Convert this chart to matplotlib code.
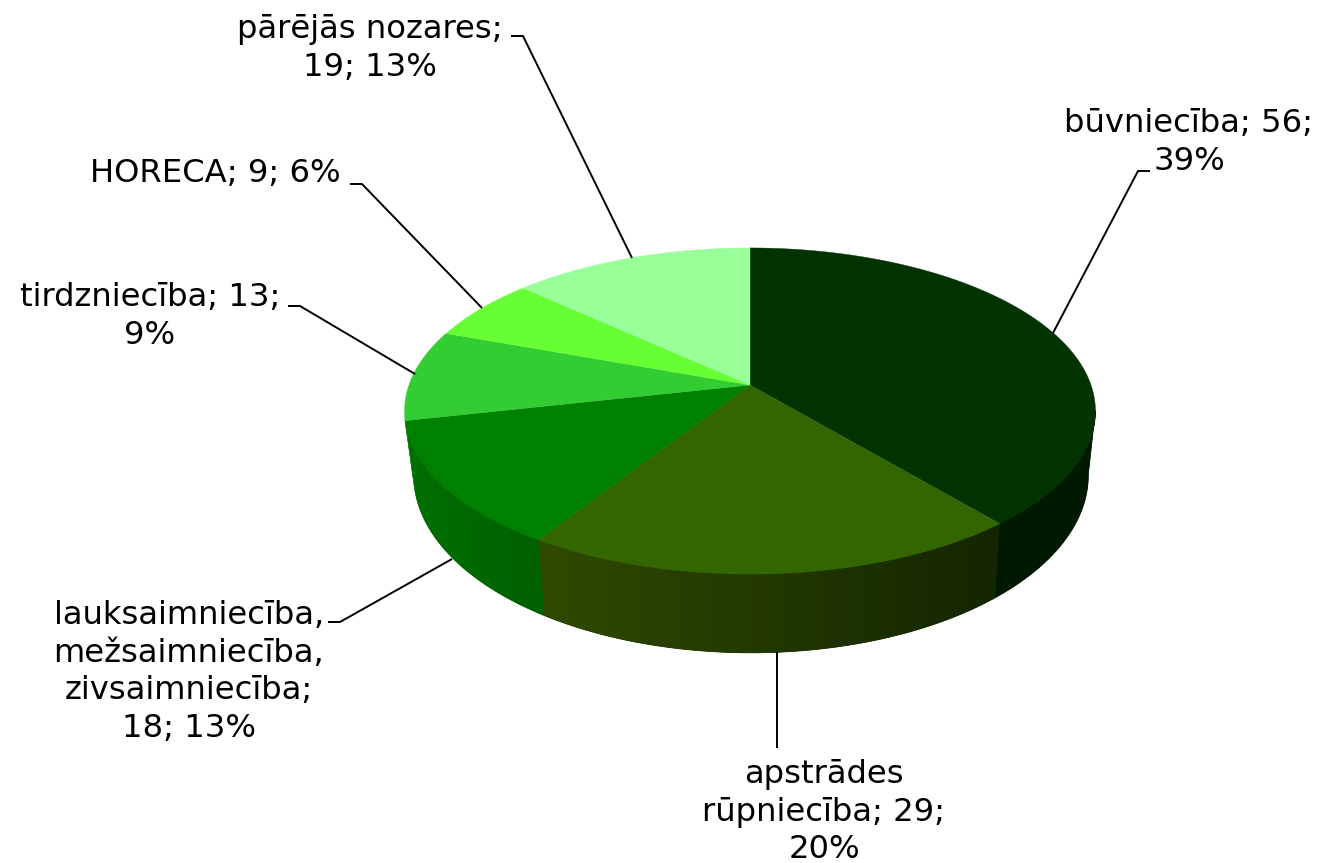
import numpy as np
import matplotlib
matplotlib.use('Agg')
from matplotlib import pyplot as plt
from matplotlib.colors import to_rgb
from matplotlib.patches import Polygon

plt.rcParams['font.family'] = ['DejaVu Sans']

sectors = ['būvniecība', 'apstrādes rūpniecība', 'lauksaimniecība, mežsaimniecība, zivsaimniecība',
           'tirdzniecība', 'HORECA', 'pārējās nozares']
counts = [56, 29, 18, 13, 9, 19]
top_colors = ['#003300', '#336600', '#008000', '#33CC33', '#66FF33', '#99FF99']
side_left = ['#001900', '#304A00', '#007000', '#229922', '#44BB22', '#77CC77']
side_right = ['#001900', '#142600', '#006000', '#229922', '#44BB22', '#77CC77']

label_texts = ['būvniecība; 56;\n39%', 'apstrādes\nrūpniecība; 29;\n20%',
               'lauksaimniecība,\nmežsaimniecība,\nzivsaimniecība;\n18; 13%',
               'tirdzniecība; 13;\n9%', 'HORECA; 9; 6%', 'pārējās nozares;\n19; 13%']
label_pos = [(1189, 142.5), (824, 812), (189, 672), (150, 316.5), (215, 174), (370, 48.5)]
leaders = [[(1053, 333), (1138, 171), (1150, 171)],
           [(777, 652), (777, 748)],
           [(452, 559), (340, 622), (328, 622)],
           [(415, 374), (300, 306), (288, 306)],
           [(482, 308), (362, 184), (350, 184)],
           [(632, 258), (523, 36), (511, 36)]]


def project(t, cx, cy, a, b, k):
    # circle seen in perspective, near edge is larger
    w = 1 + k * np.sin(t)
    return cx + a * np.cos(t) / w, cy - b * np.sin(t) / w


fig = plt.figure(figsize=(13.29, 8.63), dpi=100)
ax = fig.add_axes([0, 0, 1, 1])

TOP = dict(cx=750, cy=385, a=341, b=158.9, k=0.1595)
BOTTOM = dict(cx=751, cy=447, a=333, b=173, k=0.1595)
FRONT = (-168, -9)  # part of the rim that can be seen, degrees

angles = 90 - np.cumsum([0] + counts) / sum(counts) * 360

# side wall, a gradient clipped to each slice's rim
for i in range(len(counts)):
    start = min(angles[i], FRONT[1])
    end = max(angles[i + 1], FRONT[0])
    if start <= end:
        continue
    t = np.radians(np.linspace(start, end, 120))
    x1, y1 = project(t, **TOP)
    x2, y2 = project(t, **BOTTOM)
    pts = list(zip(x1, y1)) + list(zip(x2[::-1], y2[::-1]))
    wall = Polygon(pts, facecolor=side_right[i], edgecolor=side_right[i], lw=0.5, zorder=2)
    ax.add_patch(wall)
    xs = [p[0] for p in pts]
    ys = [p[1] for p in pts]
    grad = np.linspace(to_rgb(side_left[i]), to_rgb(side_right[i]), 64)[np.newaxis, :, :]
    im = ax.imshow(grad, extent=(min(xs), max(xs), max(ys), min(ys)), aspect='auto',
                   interpolation='bilinear', zorder=2.1)
    im.set_clip_path(Polygon(pts, transform=ax.transData))

# top face
for i in range(len(counts)):
    t = np.radians(np.linspace(angles[i], angles[i + 1], 120))
    x, y = project(t, **TOP)
    pts = [(TOP['cx'], TOP['cy'])] + list(zip(x, y))
    ax.add_patch(Polygon(pts, facecolor=top_colors[i], edgecolor=top_colors[i], lw=0.3, zorder=3))

for pts in leaders:
    xs, ys = zip(*pts)
    ax.plot(xs, ys, color='black', lw=1.4, zorder=4, solid_capstyle='butt')

for txt, (lx, ly) in zip(label_texts, label_pos):
    ax.text(lx, ly, txt, ha='center', va='center', fontsize=23.2, color='black', linespacing=1.29)

ax.set_xlim(0, 1329)
ax.set_ylim(863, 0)
ax.axis('off')

fig.savefig('out.png', dpi=100)
